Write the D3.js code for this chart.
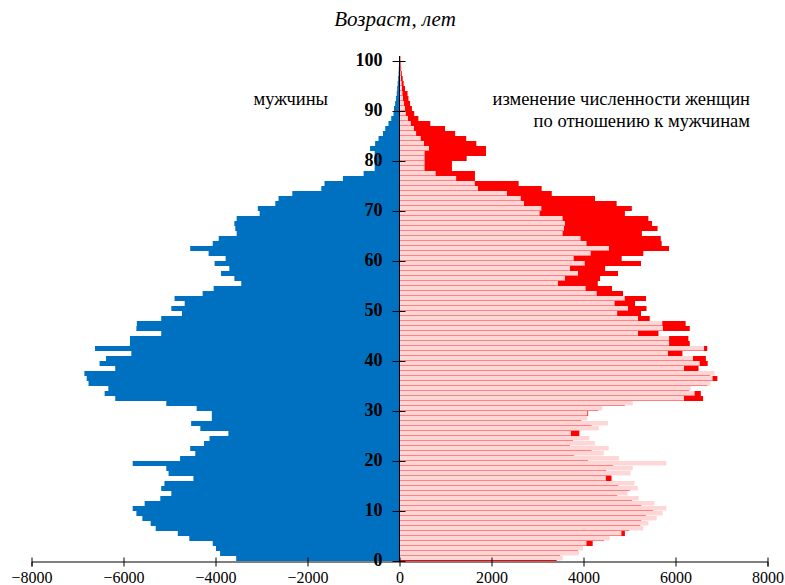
<!DOCTYPE html>
<html><head><meta charset="utf-8">
<script src="https://cdn.jsdelivr.net/npm/d3@7"></script>
<style>body{margin:0;background:#fff}</style>
</head><body>
<svg id="c" width="785" height="585"></svg>
<script>
// Age 0..100
const ages = d3.range(0, 101);
const male = [
 3550,3900,3990,4060,4570,4820,5300,5410,5590,5720,
 5800,5540,5200,4960,5180,5110,4480,5020,5070,5800,
 4770,4440,4550,4250,4130,3720,4330,4530,4080,4080,
 4410,5070,6180,6410,6330,6760,6800,6850,6180,6520,
 6380,5830,6620,5860,5860,5180,5720,5710,5180,4730,
 4960,4670,4890,4280,4040,3440,3590,3880,3700,4020,
 3780,4150,4550,4060,3930,3540,3570,3590,3540,3040,
 3080,2700,2630,2330,1700,1630,1230,780,540,540,
 540,540,640,530,456,360,310,240,180,130,
 120,95,75,60,50,40,30,20,15,10,
 10];
const female = [
 3420,3500,3880,4200,4450,4900,5000,5240,5260,5360,
 5520,5260,5060,4740,5010,4760,4610,4610,4500,4650,
 4100,3800,4180,3710,3780,3910,3920,4180,3960,4100,
 4330,4900,6600,6550,6300,6700,6910,6750,6500,6700,
 6660,6150,6690,6310,6280,5630,6310,6220,5440,5250,
 5370,5120,5360,4860,4620,4310,4360,4750,4470,5250,
 4830,5300,5860,5700,5680,5270,5610,5490,5410,4900,
 5050,4720,4250,3310,3090,2590,1640,1640,1140,1140,
 1460,1880,1880,1670,1450,1210,990,670,410,320,
 270,230,195,175,120,90,70,50,35,25,
 20];
const xTicks = [-8000,-6000,-4000,-2000,0,2000,4000,6000,8000];
const yTicks = [0,10,20,30,40,50,60,70,80,90,100];

const svg = d3.select('#c');
const x = d3.scaleLinear().domain([-8000, 8000]).range([31.5, 767.5]);
const y = d3.scaleLinear().domain([0, 101]).range([561, 56]);
const bh = y(0) - y(1);
const serif = "'Liberation Serif','Times New Roman',serif";

const data = ages.map((a, i) => ({a, m: male[i], f: female[i]}));
const g = svg.append('g');

// men (left, blue)
g.selectAll('rect.m').data(data).join('rect')
  .attr('x', d => x(-d.m)).attr('y', d => y(d.a + 1))
  .attr('width', d => x(0) - x(-d.m)).attr('height', bh)
  .attr('fill', '#0070C0');

// women excess (red) beyond mirrored men
g.selectAll('rect.fx').data(data.filter(d => d.f > d.m)).join('rect')
  .attr('x', d => x(d.m)).attr('y', d => y(d.a + 1))
  .attr('width', d => x(d.f) - x(d.m)).attr('height', bh)
  .attr('fill', '#FF0000');

// mirrored men (pink)
g.selectAll('rect.p').data(data).join('rect')
  .attr('x', x(0)).attr('y', d => y(d.a + 1))
  .attr('width', d => x(d.m) - x(0)).attr('height', bh - 1)
  .attr('fill', '#FFD6D6');
// separator line: women level (salmon) and remainder (pale)
g.selectAll('rect.l').data(data).join('rect')
  .attr('x', x(0)).attr('y', d => y(d.a) - 1)
  .attr('width', d => x(Math.min(d.f, d.m)) - x(0)).attr('height', 1)
  .attr('fill', d => d.a === 0 ? '#FF0000' : '#FF8080');
g.selectAll('rect.l2').data(data.filter(d => d.f < d.m)).join('rect')
  .attr('x', d => x(d.f)).attr('y', d => y(d.a) - 1)
  .attr('width', d => x(d.m) - x(d.f)).attr('height', 1)
  .attr('fill', '#FFECEC');

// x axis
const xa = svg.append('g').attr('transform', `translate(0,${y(0) + 0.5})`)
  .call(d3.axisBottom(x).tickValues(xTicks).tickSizeOuter(0).tickSize(5).tickFormat(d3.format('d')));
xa.select('.domain').attr('stroke', '#000');
xa.selectAll('.tick line').attr('y1', -4).attr('y2', 5).attr('stroke', '#000');
xa.selectAll('.tick text').attr('y', 21).attr('dy', 0)
  .style('font-family', serif).style('font-size', '16px').attr('fill', '#000');

// y axis (at zero)
const ya = svg.append('g').attr('transform', `translate(${x(0)},0)`)
  .call(d3.axisLeft(y).tickValues(yTicks).tickSizeOuter(0).tickFormat(d3.format('d')));
ya.select('.domain').attr('stroke', '#000').attr('d', `M0,${y(101)}V${y(0)}`);
ya.selectAll('.tick line').attr('x1', -7).attr('x2', 6).attr('stroke', '#000');
ya.selectAll('.tick text').attr('x', -17).attr('dy', 4)
  .style('font-family', serif).style('font-size', '18px').style('font-weight', 'bold').attr('fill', '#000');

// titles
svg.append('text').attr('x', 395).attr('y', 26).attr('text-anchor', 'middle')
  .style('font-family', serif).style('font-size', '21px').style('font-style', 'italic')
  .text('Возраст, лет');
svg.append('text').attr('x', 328).attr('y', 105).attr('text-anchor', 'end')
  .style('font-family', serif).style('font-size', '18.5px').text('мужчины');
svg.append('text').attr('x', 750).attr('y', 105).attr('text-anchor', 'end')
  .style('font-family', serif).style('font-size', '18.5px').text('изменение численности женщин');
svg.append('text').attr('x', 750).attr('y', 127).attr('text-anchor', 'end')
  .style('font-family', serif).style('font-size', '18.5px').text('по отношению к мужчинам');
</script>
</body></html>
